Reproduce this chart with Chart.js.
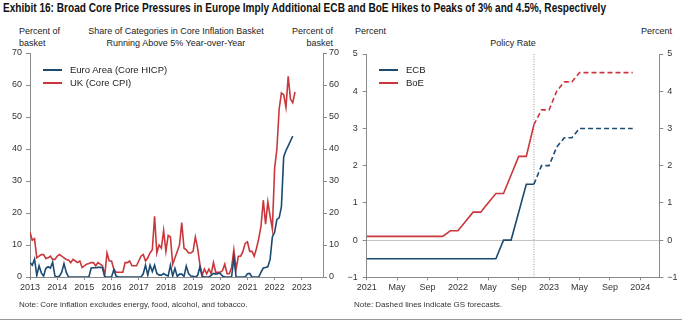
<!DOCTYPE html>
<html>
<head>
<meta charset="utf-8">
<script src="https://cdn.jsdelivr.net/npm/chart.js"></script>
<style>
  body { margin: 0; width: 700px; height: 322px; position: relative; background: #fff; overflow: hidden;
         font-family: 'Liberation Sans', Arial, sans-serif; color: #222; }
  canvas { position: absolute; top: 0; }
  .txt { position: absolute; font-size: 9px; line-height: 12px; white-space: nowrap; }
  #title { position: absolute; left: 3px; top: 1px; font-family: 'Liberation Sans Narrow', 'Liberation Sans', Arial, sans-serif;
           font-weight: bold; font-size: 12.5px; white-space: nowrap; transform-origin: left top; color: #111; }
  .leg { position: absolute; font-size: 9.5px; line-height: 12px; white-space: nowrap; }
  .leg i { position: absolute; left: 0; top: 5px; width: 19px; height: 0; border-top: 2px solid; }
  .leg span { position: absolute; left: 27px; top: 0; }
  .note { position: absolute; top: 300px; font-size: 8px; white-space: nowrap; color: #333; }
  #rule { position: absolute; left: 0; top: 319px; width: 682px; height: 1px; background: #999; }
</style>
</head>
<body>
<div id="title">Exhibit 16: Broad Core Price Pressures in Europe Imply Additional ECB and BoE Hikes to Peaks of 3% and 4.5%, Respectively</div>

<div class="txt" style="left:19px; top:25px;">Percent of<br>basket</div>
<div class="txt" style="left:176px; top:25px; transform:translateX(-50%); text-align:center;">Share of Categories in Core Inflation Basket<br>Running Above 5% Year-over-Year</div>
<div class="txt" style="right:367px; top:25px; text-align:right;">Percent of<br>basket</div>
<div class="txt" style="left:355px; top:25px;">Percent</div>
<div class="txt" style="left:513px; top:37px; transform:translateX(-50%);">Policy Rate</div>
<div class="txt" style="left:641px; top:25px;">Percent</div>

<canvas id="left" width="350" height="322" style="left:0"></canvas>
<canvas id="right" width="360" height="322" style="left:340px"></canvas>

<div class="leg" style="left:43px; top:64px;"><i style="border-color:#1b4a73"></i><span>Euro Area (Core HICP)</span></div>
<div class="leg" style="left:43px; top:77px;"><i style="border-color:#c9373c"></i><span>UK (Core CPI)</span></div>
<div class="leg" style="left:379px; top:64px;"><i style="border-color:#1b4a73"></i><span>ECB</span></div>
<div class="leg" style="left:379px; top:77px;"><i style="border-color:#c9373c"></i><span>BoE</span></div>

<div class="note" style="left:19px;">Note: Core inflation excludes energy, food, alcohol, and tobacco.</div>
<div class="note" style="left:354px;">Note: Dashed lines indicate GS forecasts.</div>
<div id="rule"></div>

<script>
// monthly share of core basket above 5% y/y, starting Jan 2013
const startYear = 2013;
const euroShare = [
  4.5, 3.7, 5.6, 0.5, 3.5, 1.3, 0.3, 2.7, 3.2, 2.8, 4.6, 0.3,   // 2013
  0, 0.3, 1.5, 4.2, 1.5, 0, 0, 0, 0, 0, 0, 0,                  // 2014
  0, 0, 0, 2.8, 2.9, 2.9, 3, 3, 2.9, 0, 0, 0,                  // 2015
  0, 2.3, 0.3, 0, 0, 0, 0, 0, 0, 0, 0, 0,                      // 2016
  0, 0, 1, 3.7, 0.6, 3.7, 1.7, 3.7, 1.1, 0.6, 0.6, 1.1,        // 2017
  0.6, 0.3, 3.7, 0.3, 2.7, 0.2, 0.9, 0.9, 0.2, 3.4, 1.1, 0.3,  // 2018
  0.2, 0, 0.5, 3.2, 0.2, 0, 0, 0, 0.5, 1.1, 0.9, 1.1,          // 2019
  1.1, 0.3, 0, 0, 0, 0, 6, 0, 0, 0, 0, 0,                      // 2020
  1, 1.1, 0, 0, 0, 0, 1.5, 2.8, 3, 3.2, 5.5, 12.5,             // 2021
  14, 18, 18.5, 22, 37.5, 39.5, 41, 42.5, 44                   // 2022
];
const ukShare = [
  14, 11.5, 12, 6, 6.5, 7, 7, 5.8, 6, 6.5, 5.5, 5.5,           // 2013
  6.5, 7, 6.5, 6, 5.5, 5.3, 4.5, 5.5, 5, 4.5, 5, 3,            // 2014
  3.5, 4, 4.2, 4.5, 4.5, 3.5, 4.5, 4, 3.5, 0.5, 7.5, 5,        // 2015
  5, 2.5, 1.5, 1.5, 1.5, 1.5, 4.5, 4.5, 5, 3.5, 3.5, 3.5,      // 2016
  5, 6.5, 7, 5, 6, 7.5, 8.5, 19, 7.5, 10, 9, 14.5,             // 2017
  8, 13, 12.5, 4, 6, 8, 10, 17, 9, 8.5, 7.5, 7.5,              // 2018
  8, 12.5, 9, 4, 0.5, 2.5, 1, 2.5, 1, 4.5, 1.5, 1.5,           // 2019
  1.5, 2, 4, 1, 1, 3, 8.5, 2.5, 6.5, 6.5, 8, 10.5,             // 2020
  11, 8, 8, 6.5, 9, 12, 16, 24, 16.5, 23.5, 19, 15,            // 2021
  34, 40, 52.5, 57.5, 57, 53, 62.7, 55.6, 54.5, 57.8           // 2022
];
const shareTicks = [0, 10, 20, 30, 40, 50, 60, 70];

// policy rates, monthly from Jan 2021 (index = months since Jan 2021)
const ecbRate = [
  -0.5, -0.5, -0.5, -0.5, -0.5, -0.5, -0.5, -0.5, -0.5, -0.5, -0.5, -0.5,  // 2021
  -0.5, -0.5, -0.5, -0.5, -0.5, -0.5, 0, 0, 0.75, 1.5, 1.5, 2.0,           // 2022
  2.0, 2.5, 2.75, 2.75, 3, 3, 3, 3, 3, 3, 3, 3                             // 2023
];
const boeRate = [
  0.1, 0.1, 0.1, 0.1, 0.1, 0.1, 0.1, 0.1, 0.1, 0.1, 0.1, 0.25,             // 2021
  0.25, 0.5, 0.75, 0.75, 1.0, 1.25, 1.25, 1.75, 2.25, 2.25, 3.1, 3.5,      // 2022
  3.5, 4.0, 4.25, 4.25, 4.5, 4.5, 4.5, 4.5, 4.5, 4.5, 4.5, 4.5             // 2023
];
const forecastFrom = 22; // Nov 2022, GS forecasts after this
const rateTickLabels = ['2021', 'May', 'Sep', '2022', 'May', 'Sep', '2023', 'May', 'Sep', '2024'];

const blue = '#1b4a73';
const red = '#c9373c';
const axisGrey = '#8a8a8a';

Chart.defaults.font.family = "'Liberation Sans', Arial, sans-serif";
Chart.defaults.font.size = 9;
Chart.defaults.color = '#333';

function sideAxis(pos, min, max, width, extra) {
  return Object.assign({
    position: pos, min: min, max: max,
    ticks: { stepSize: 1, padding: 4 },
    grid: { drawOnChartArea: false, tickLength: 4, color: axisGrey },
    border: { color: axisGrey },
    afterFit: s => { s.width = width; }
  }, extra || {});
}

new Chart(document.getElementById('left'), {
  type: 'line',
  data: {
    datasets: [
      { label: 'Euro Area (Core HICP)', data: euroShare.map((v, i) => ({ x: startYear + i / 12, y: v })),
        borderColor: blue, borderWidth: 1.6, pointRadius: 0, tension: 0 },
      { label: 'UK (Core CPI)', data: ukShare.map((v, i) => ({ x: startYear + i / 12, y: v })),
        borderColor: red, borderWidth: 1.6, pointRadius: 0, tension: 0 }
    ]
  },
  options: {
    responsive: false, animation: false,
    layout: { padding: { top: 53, bottom: 25, left: 0, right: 0 } },
    plugins: { legend: { display: false }, tooltip: { enabled: false } },
    scales: {
      x: {
        type: 'linear', min: 2013, max: 2023.78,
        ticks: { stepSize: 1, includeBounds: false, autoSkip: false, maxRotation: 0, padding: 2, callback: v => String(v) },
        grid: { drawOnChartArea: false, tickLength: 3, color: axisGrey },
        border: { color: axisGrey },
        afterFit: s => { s.height = 20; }
      },
      y: sideAxis('left', shareTicks[0], shareTicks[shareTicks.length - 1], 30, { ticks: { stepSize: 10, padding: 4 } }),
      y2: sideAxis('right', shareTicks[0], shareTicks[shareTicks.length - 1], 27, { ticks: { stepSize: 10, padding: 2 } })
    }
  }
});

const forecastLine = {
  id: 'forecastLine',
  beforeDatasetsDraw(chart) {
    const ctx = chart.ctx, a = chart.chartArea;
    const x = chart.scales.x.getPixelForValue(forecastFrom);
    ctx.save();
    ctx.strokeStyle = '#999';
    ctx.lineWidth = 1;
    ctx.setLineDash([1, 1.5]);
    ctx.beginPath();
    ctx.moveTo(x, a.top);
    ctx.lineTo(x, a.bottom);
    ctx.stroke();
    ctx.restore();
  }
};

const dashAfter = { borderDash: c => c.p0DataIndex >= forecastFrom ? [5, 3] : undefined };
const minusFmt = v => v < 0 ? '\u2212' + Math.abs(v) : String(v);

new Chart(document.getElementById('right'), {
  type: 'line',
  data: {
    datasets: [
      { label: 'ECB', data: ecbRate.map((v, i) => ({ x: i, y: v })), borderColor: blue, borderWidth: 1.6,
        pointRadius: 0, tension: 0, segment: dashAfter },
      { label: 'BoE', data: boeRate.map((v, i) => ({ x: i, y: v })), borderColor: red, borderWidth: 1.6,
        pointRadius: 0, tension: 0, segment: dashAfter }
    ]
  },
  options: {
    responsive: false, animation: false,
    layout: { padding: { top: 54, bottom: 25, left: 0, right: 0 } },
    plugins: { legend: { display: false }, tooltip: { enabled: false } },
    scales: {
      x: {
        type: 'linear', min: 0, max: 38.5,
        ticks: { stepSize: 4, includeBounds: false, autoSkip: false, maxRotation: 0, padding: 2,
                 callback: v => rateTickLabels[v / 4] },
        grid: { drawOnChartArea: false, tickLength: 3, color: axisGrey },
        border: { color: axisGrey },
        afterFit: s => { s.height = 19.7; }
      },
      y: sideAxis('left', -1, 5, 26.7, {
        ticks: { stepSize: 1, padding: 5, callback: minusFmt },
        grid: { drawOnChartArea: true, tickLength: 4, tickColor: axisGrey,
                color: c => (c.tick && c.tick.value === 0) ? '#c4c4c4' : 'rgba(0,0,0,0)' }
      }),
      y2: sideAxis('right', -1, 5, 40.7, {
        ticks: { stepSize: 1, padding: 4, callback: minusFmt }
      })
    }
  },
  plugins: [forecastLine]
});

// squeeze the title to the reference width
const t = document.getElementById('title');
const tw = t.getBoundingClientRect().width;
t.style.transform = 'scaleX(' + (603 / tw) + ')';
</script>
</body>
</html>
